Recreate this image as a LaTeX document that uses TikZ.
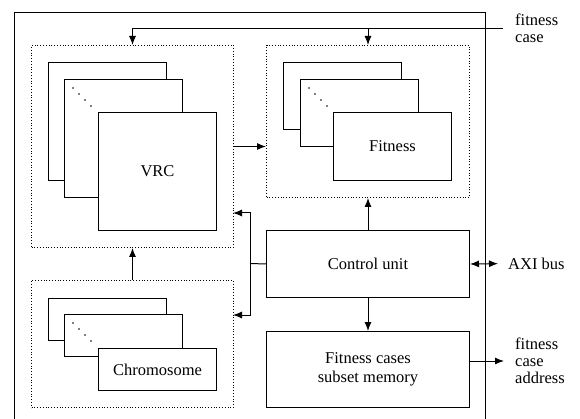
\documentclass[tikz,border=0pt]{standalone}
\usepackage{fontspec}
\setmainfont{Liberation Serif}
\usetikzlibrary{arrows.meta}

\tikzset{
  box/.style = {draw, fill=white, line width=1pt, anchor=north west, inner sep=0pt, align=center},
  grp/.style = {draw, line width=1pt, dash pattern=on 1pt off 1.8pt, anchor=north west, inner sep=0pt},
  lbl/.style = {anchor=west, inner sep=0pt, align=left, font=\fontsize{16.5}{17}\selectfont},
  arr/.style = {-{Latex[length=9pt,width=7pt]}, line width=1pt},
  dblarr/.style = {{Latex[length=9pt,width=7pt]}-{Latex[length=9pt,width=7pt]}, line width=1pt},
}

% four dots in the corner of a back card
\newcommand\stackdots[1]{%
  \foreach \i in {0,...,3}
    \fill (#1.north west) ++(9+6*\i, 9+6*\i) circle (0.8pt);
}

\begin{document}
\begin{tikzpicture}[x=1pt, y=-1pt, font=\fontsize{16.5}{19.5}\selectfont]
  \useasboundingbox (0,0) rectangle (580,419);

  % chip frame
  \node[draw, line width=1pt, anchor=north west, minimum width=471pt, minimum height=430pt] (chip) at (14,12) {};

  % groups
  \node[grp, minimum width=202pt, minimum height=202pt] (vrcgrp) at (31,45) {};
  \node[grp, minimum width=203pt, minimum height=152pt] (fitgrp) at (266,45) {};
  \node[grp, minimum width=202pt, minimum height=127pt] (chrgrp) at (31,280) {};

  % VRC stack
  \node[box, minimum width=118pt, minimum height=118pt] (vrcA) at (48,62) {};
  \node[box, minimum width=118pt, minimum height=118pt] (vrcB) at (64,79) {};
  \stackdots{vrcB}
  \node[box, minimum width=118pt, minimum height=118pt] (vrc) at (98,112) {VRC};

  % fitness stack
  \node[box, minimum width=118pt, minimum height=67pt] (fitA) at (283,62) {};
  \node[box, minimum width=118pt, minimum height=67pt] (fitB) at (300,79) {};
  \stackdots{fitB}
  \node[box, minimum width=118pt, minimum height=68pt] (fit) at (333,112) {Fitness};

  % chromosome stack
  \node[box, minimum width=118pt, minimum height=42pt] (chrA) at (48,298) {};
  \node[box, minimum width=118pt, minimum height=42pt] (chrB) at (64,314) {};
  \stackdots{chrB}
  \node[box, minimum width=118pt, minimum height=42pt] (chr) at (98,348) {Chromosome};

  \node[box, minimum width=203pt, minimum height=67pt] (ctrl) at (266,230) {Control unit};
  \node[box, minimum width=203pt, minimum height=76pt] (mem) at (266,331) {Fitness cases\\subset memory};

  % outside signals
  \node[lbl] (fcase) at (515,28) {fitness\\case};
  \node[lbl] (axi) at (508,263.5) {AXI bus};
  \node[lbl] (addr) at (515,361) {fitness\\case\\address};

  \coordinate (fcin) at (503,29);
  \coordinate (fork) at (250,263.5);
  \coordinate (tovrc) at (233,213);
  \coordinate (tochr) at (233,315);

  \draw[arr] (fcin) -| (vrcgrp.north);
  \draw[arr] (fitgrp.north |- fcin) -- (fitgrp.north);
  \draw[arr] (vrcgrp.east) -- (fitgrp.west |- vrcgrp.east);
  \draw[arr] (chrgrp.north) -- (vrcgrp.south);
  \draw[arr] (ctrl.north) -- (fitgrp.south);
  \draw[arr] (ctrl.south) -- (mem.north);
  \draw[line width=1pt] (ctrl.west) -- (fork);
  \draw[arr] (fork) |- (tovrc);
  \draw[arr] (fork) |- (tochr);
  \draw[dblarr, shorten >=10pt] (ctrl.east) -- (axi.west);
  \draw[arr, shorten >=11pt] (mem.east |- addr.west) -- (addr.west);
\end{tikzpicture}
\end{document}
